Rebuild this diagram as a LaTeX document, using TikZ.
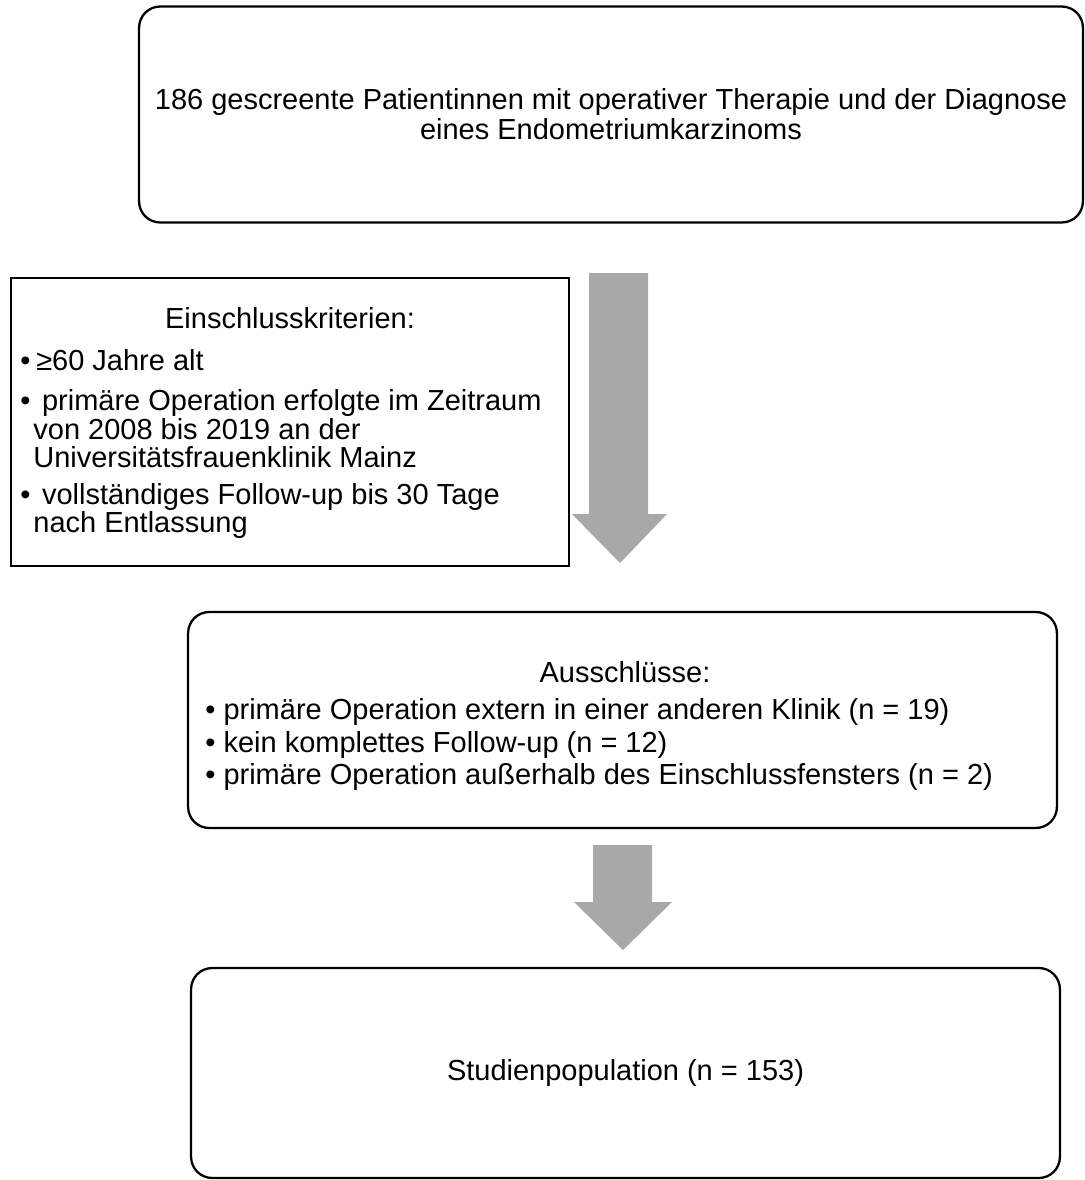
\documentclass[tikz,border=0pt]{standalone}
\usepackage{fontspec}
\setmainfont{Liberation Sans}
\usetikzlibrary{positioning}
\definecolor{arrowgray}{HTML}{A8A8A8}
\tikzset{
  roundbox/.style={draw, line width=1.3pt, rounded corners=12pt, align=center},
  plainbox/.style={draw, line width=1.3pt},
  boxtext/.style={inner sep=0pt, font=\fontsize{16.5}{17}\selectfont},
  bigarrow/.style={fill=arrowgray},
}

\begin{document}
\begin{tikzpicture}[x=0.02cm, y=-0.02cm]
\useasboundingbox (0,0) rectangle (1085,1180);

% Screened patients at the top
\node[roundbox, boxtext, minimum width=18.88cm, minimum height=4.32cm] (screen) at (611,114.5)
  {186 gescreente Patientinnen mit operativer Therapie und der Diagnose\\eines Endometriumkarzinoms};

% Inclusion criteria on the left
\node[plainbox, minimum width=11.16cm, minimum height=5.76cm] (incl) at (290,422) {};
\node[boxtext] (incltitle) at (290,318) {Einschlusskriterien:};
\node[boxtext, align=left, anchor=north west, font=\fontsize{16.5}{16.3}\selectfont] (incllist) at (20,349)
  {•\hspace{0.2em}≥60 Jahre alt\\[6.5pt]
   •\hspace{0.4em}primäre Operation erfolgte im Zeitraum\\
   \hspace{0.45em}von 2008 bis 2019 an der\\
   \hspace{0.45em}Universitätsfrauenklinik Mainz\\[4.5pt]
   •\hspace{0.4em}vollständiges Follow-up bis 30 Tage\\
   \hspace{0.45em}nach Entlassung};

% Exclusions
\node[roundbox, minimum width=17.38cm, minimum height=4.32cm] (excl) at (622.5,720) {};
\node[boxtext] (excltitle) at (625,672) {Ausschlüsse:};
\node[boxtext, align=left, anchor=north west, font=\fontsize{16.5}{18.6}\selectfont] (excllist) at (205,698)
  {• primäre Operation extern in einer anderen Klinik (n = 19)\\
   • kein komplettes Follow-up (n = 12)\\
   • primäre Operation außerhalb des Einschlussfensters (n = 2)};

% Final study population
\node[roundbox, boxtext, minimum width=17.38cm, minimum height=4.2cm] (study) at (625.5,1073)
  {Studienpopulation (n = 153)};

% Block arrows between the stages
\coordinate (arrAtop) at (618,273);
\coordinate (arrAtip) at (620,563);
\fill[bigarrow] (arrAtop) ++(-29,0) -- ++(59,0) -- ++(0,241) -- ++(19,0)
  -- (arrAtip) -- ++(-48,-49) -- ++(17,0) -- cycle;

\coordinate (arrBtop) at (622.5,845);
\coordinate (arrBtip) at (623,950);
\fill[bigarrow] (arrBtop) ++(-29.5,0) -- ++(59,0) -- ++(0,57) -- ++(20,0)
  -- (arrBtip) -- ++(-49,-48) -- ++(19,0) -- cycle;
\end{tikzpicture}
\end{document}
